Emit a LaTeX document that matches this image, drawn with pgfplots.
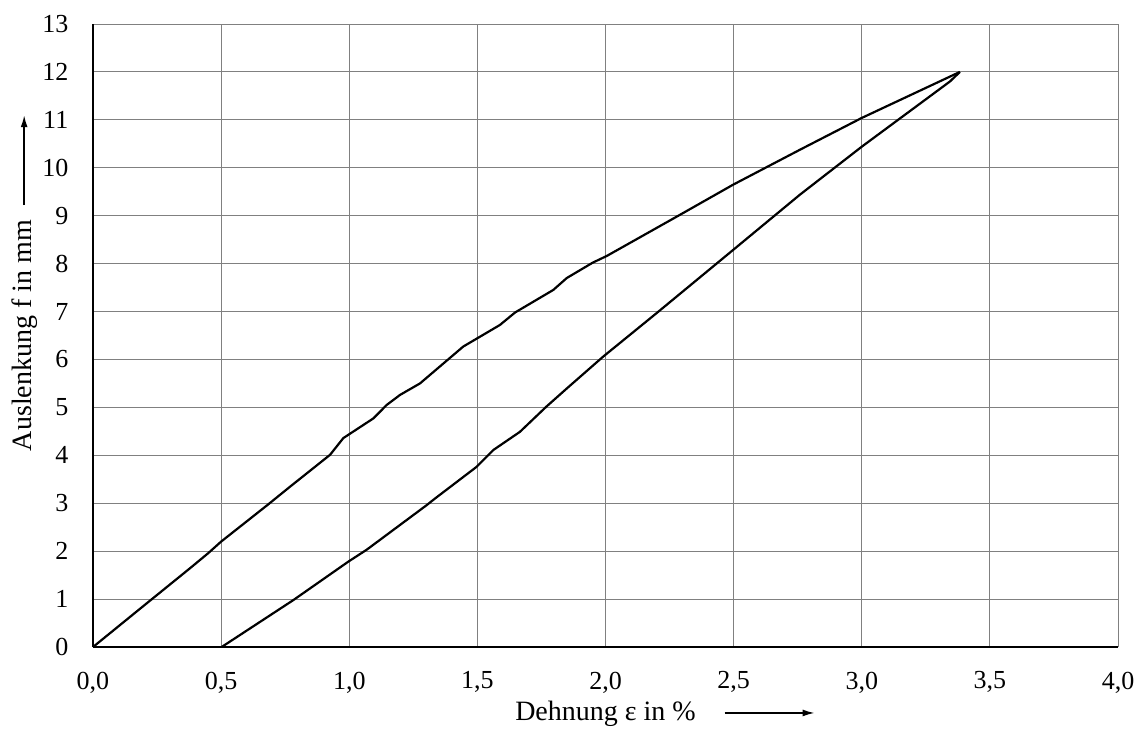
\documentclass[border=0pt]{standalone}
\usepackage{fontspec}
\setmainfont{Liberation Serif}
\usepackage{pgfplots}
\pgfplotsset{compat=1.18}
\usetikzlibrary{arrows.meta}
\begin{document}
\fontsize{12.5}{15}\selectfont
\begin{tikzpicture}
\begin{axis}[
  scale only axis,
  width=512.5pt, height=311.5pt,
  xmin=0, xmax=4, ymin=0, ymax=13,
  xtick={0,0.5,...,4}, ytick={0,1,...,13},
  grid=major,
  grid style={draw=black!50, line width=0.5pt},
  axis x line*=bottom, axis y line*=left,
  axis line style={black, line width=0.6pt},
  major tick length=0pt,
  /pgf/number format/assume math mode=true,
  xticklabel style={/pgf/number format/.cd, fixed, fixed zerofill, precision=1, use comma, /tikz/.cd, yshift=-8pt},
  yticklabel style={anchor=east, xshift=-8pt},
  ticklabel style={font=\fontsize{13}{15}\selectfont},
  xlabel={Dehnung ε in \%\rlap{\hspace{14pt}\tikz[baseline=-0.6ex]\draw[line width=0.8pt,-{Latex[length=6pt,width=3.5pt]}](0,0)--(45pt,0);}},
  ylabel={Auslenkung f in mm\rlap{\hspace{7pt}\tikz[baseline=-0.6ex]\draw[line width=0.8pt,-{Latex[length=6pt,width=3.5pt]}](0,0)--(45pt,0);}},
  every axis x label/.style={at={(axis description cs:0.5,-0.1075)}, anchor=center, font=\fontsize{14}{16}\selectfont},
  every axis y label/.style={at={(axis description cs:-0.0663,0.5)}, anchor=center, rotate=90, font=\fontsize{14}{16}\selectfont},
  clip=false,
]
\addplot[black, line width=1.1pt] coordinates {
(0,0) (0.20,0.87) (0.38,1.65) (0.45,1.96) (0.50,2.20) (0.68,2.96) (0.77,3.35)
(0.925,4.01) (0.977,4.36) (1.094,4.77) (1.146,5.05) (1.198,5.26) (1.276,5.50)
(1.445,6.27) (1.588,6.72) (1.647,6.98) (1.796,7.45) (1.849,7.70) (1.95,8.02)
(2.005,8.16) (2.291,9.02) (2.499,9.65) (2.76,10.38) (3.0,11.04) (3.383,12.0)
};
\addplot[black, line width=1.1pt] coordinates {
(3.383,12) (3.344,11.80) (3.0,10.44) (2.759,9.44) (2.499,8.29) (2.2,6.97)
(1.991,6.06) (1.85,5.40) (1.770,5.02) (1.666,4.49) (1.562,4.11) (1.497,3.76)
(1.335,3.10) (1.302,2.96) (1.068,2.03) (0.996,1.78) (0.782,0.98) (0.502,0)
};
\end{axis}
\path ([xshift=-46.5pt,yshift=-42pt]current axis.south west) rectangle ([xshift=12.5pt,yshift=12pt]current axis.north east);
\end{tikzpicture}
\end{document}
